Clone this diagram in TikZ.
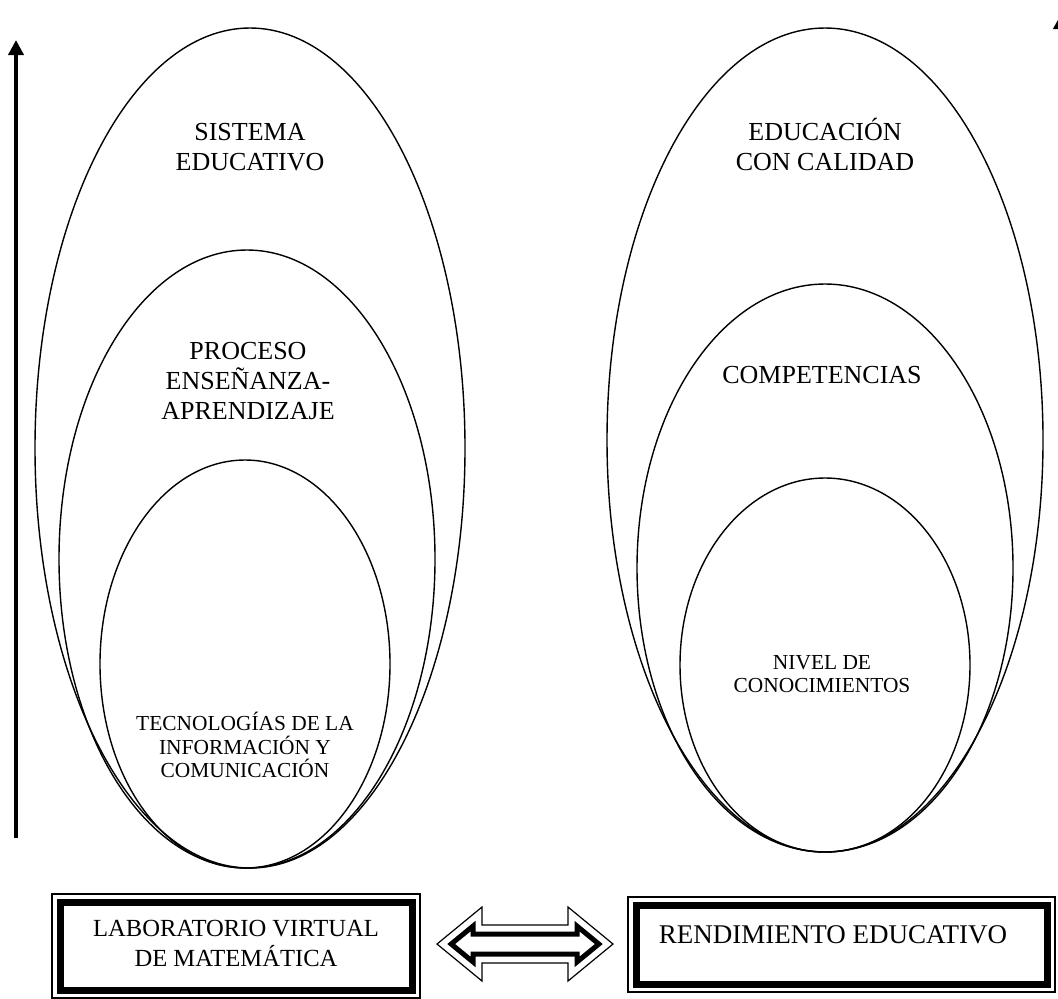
\documentclass[tikz,border=0pt]{standalone}
\usepackage{fontspec}
\setmainfont{Liberation Serif}
\usetikzlibrary{shapes.geometric,arrows.meta}

\begin{document}
\begin{tikzpicture}[x=0.5pt,y=-0.5pt,
    oval/.style={draw,ellipse,line width=0.7pt,inner sep=0pt},
    big/.style={align=center,font=\fontsize{13}{15}\selectfont},
    small/.style={align=center,font=\fontsize{10.7}{11.8}\selectfont},
    thinframe/.style={draw,line width=0.6pt,inner sep=0pt},
    thickframe/.style={draw,line width=3.5pt,inner sep=0pt},
    growth/.style={line width=2.2pt,-{Triangle[width=7.5pt,length=7.5pt]}}]
\useasboundingbox (0,0) rectangle (1058,998);

% left side
\node[oval,minimum width=215pt,minimum height=420pt] (sistema) at (250,448) {};
\node[oval,minimum width=188pt,minimum height=309pt] (proceso) at (247,559) {};
\node[oval,minimum width=145pt,minimum height=204pt] (tic) at (245,664) {};
\node[big] (sistematxt) at (250,147) {SISTEMA\\EDUCATIVO};
\node[big] (procesotxt) at (248,381) {PROCESO\\ENSEÑANZA-\\APRENDIZAJE};
\node[small] (tictxt) at (245,745) {TECNOLOGÍAS DE LA\\INFORMACIÓN Y\\COMUNICACIÓN};

% right side
\node[oval,minimum width=218pt,minimum height=412pt] (calidad) at (825,440) {};
\node[oval,minimum width=188pt,minimum height=284pt] (compet) at (825,568) {};
\node[oval,minimum width=145pt,minimum height=187pt] (nivel) at (825,665) {};
\node[big] (calidadtxt) at (825,144) {EDUCACIÓN\\CON CALIDAD};
\node[big] (compettxt) at (822,375) {COMPETENCIAS};
\node[small] (niveltxt) at (822,674) {NIVEL DE\\CONOCIMIENTOS};

% vertical arrows
\coordinate (lowl) at (16,838);
\coordinate (topl) at (16,40);
\coordinate (lowr) at (1061,838);
\coordinate (topr) at (1061,14);
\draw[growth] (lowl) -- (topl);
\draw[growth] (lowr) -- (topr);

% boxes
\node[thinframe,minimum width=184pt,minimum height=52pt] (lab) at (236,946) {};
\node[thickframe,minimum width=176pt,minimum height=44pt] at (lab) {};
\node[big,font=\fontsize{12.3}{15}\selectfont] (labtxt) at (236,943) {LABORATORIO VIRTUAL\\DE MATEMÁTICA};
\node[thinframe,minimum width=213.5pt,minimum height=47.5pt] (rend) at (841.5,944.5) {};
\node[thickframe,minimum width=205.5pt,minimum height=39.5pt] at (rend) {};
\node[big,font=\fontsize{13.5}{15}\selectfont] (rendtxt) at (833,935) {RENDIMIENTO EDUCATIVO};

% double arrow between the boxes
\coordinate (link) at (525,944);
\begin{scope}[shift={(link)}]
  \draw[line width=0.6pt] (-88,0) -- (-43,-37) -- (-43,-19) -- (43,-19) -- (43,-37)
    -- (88,0) -- (43,37) -- (43,19) -- (-43,19) -- (-43,37) -- cycle;
  \draw[line width=2.5pt] (-73.8,0) -- (-52,-17.9) -- (-52,-10) -- (52,-10) -- (52,-17.9)
    -- (73.8,0) -- (52,17.9) -- (52,10) -- (-52,10) -- (-52,17.9) -- cycle;
\end{scope}
\end{tikzpicture}
\end{document}
